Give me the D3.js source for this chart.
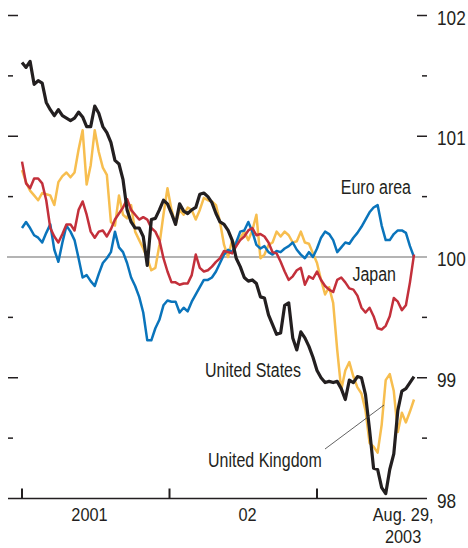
<!DOCTYPE html>
<html><head><meta charset="utf-8">
<script src="https://cdn.jsdelivr.net/npm/d3@7"></script>
<style>
html,body{margin:0;padding:0;background:#fff;}
svg{display:block;}
text{font-family:"Liberation Sans",Arial,sans-serif;fill:#231f20;}
</style></head>
<body>
<svg id="chart" width="468" height="548"></svg>
<script>
// ---- data (10-day steps from Jan 1, 2001 to Aug 29, 2003) ----
const startDate = new Date(2001, 0, 1);
const endDate = new Date(2003, 7, 29);
const stepDays = 10;

const unitedStates = [101.61,101.57,101.62,101.43,101.46,101.44,101.28,101.22,101.17,101.22,
101.17,101.15,101.13,101.15,101.20,101.16,101.08,101.08,101.25,101.19,
101.08,101.03,100.95,100.80,100.77,100.64,100.39,100.29,100.24,100.24,
100.17,99.93,100.31,100.32,100.39,100.47,100.44,100.36,100.27,100.44,
100.38,100.36,100.39,100.41,100.52,100.53,100.50,100.45,100.36,100.29,
100.27,100.22,100.14,99.99,99.92,99.83,99.80,99.81,99.78,99.67,
99.66,99.52,99.44,99.36,99.37,99.60,99.62,99.33,99.23,99.38,
99.33,99.26,99.17,99.06,99.00,98.96,98.97,98.96,98.97,98.91,
98.82,98.98,98.96,99.01,99.00,98.86,98.57,98.25,98.24,98.09,
98.04,98.24,98.37,98.73,98.89,98.91,98.96,99.01];

const japan = [100.79,100.61,100.57,100.65,100.65,100.61,100.47,100.24,100.17,100.12,
100.19,100.27,100.27,100.22,100.39,100.46,100.35,100.21,100.16,100.21,
100.22,100.17,100.23,100.31,100.36,100.41,100.48,100.39,100.35,100.31,
100.33,100.31,100.24,100.21,100.14,99.99,99.88,99.79,99.79,99.77,
99.78,99.78,99.85,100.02,99.91,99.88,99.89,99.92,99.96,99.99,
100.05,100.04,100.03,100.09,100.14,100.17,100.22,100.24,100.18,100.19,
100.17,100.12,100.04,100.03,99.96,99.88,99.81,99.84,99.89,99.91,
99.77,99.84,99.82,99.88,99.81,99.76,99.73,99.71,99.81,99.83,
99.79,99.74,99.73,99.68,99.58,99.54,99.58,99.51,99.41,99.40,
99.43,99.51,99.66,99.63,99.56,99.60,99.79,100.02];

const euroArea = [100.24,100.29,100.24,100.18,100.16,100.12,100.20,100.27,100.06,99.96,
100.12,100.26,100.21,100.14,99.99,99.83,99.85,99.80,99.76,99.86,
99.95,99.99,100.04,100.21,100.08,100.04,99.95,99.83,99.76,99.67,
99.54,99.31,99.31,99.41,99.48,99.60,99.64,99.63,99.63,99.54,
99.58,99.55,99.63,99.69,99.75,99.81,99.81,99.83,99.88,99.95,
100.02,100.06,100.04,100.12,100.21,100.22,100.29,100.21,100.10,100.07,
100.09,100.04,100.02,100.05,100.04,100.07,100.09,100.12,100.06,100.02,
99.99,100.04,100.00,100.07,100.16,100.21,100.19,100.14,100.04,100.08,
100.12,100.11,100.16,100.20,100.25,100.31,100.37,100.41,100.43,100.26,
100.14,100.14,100.19,100.22,100.22,100.20,100.09,100.00];

const unitedKingdom = [100.72,100.62,100.55,100.51,100.47,100.53,100.52,100.51,100.43,100.62,
100.67,100.70,100.66,100.70,100.89,101.05,100.60,100.76,101.05,100.87,
100.74,100.68,100.29,100.26,100.51,100.35,100.32,100.43,100.21,100.14,
100.07,99.99,99.89,99.91,100.10,100.35,100.57,100.39,100.27,100.39,
100.35,100.41,100.39,100.31,100.39,100.49,100.47,100.46,100.43,100.29,
100.10,100.00,100.14,100.09,100.16,100.21,100.14,100.22,100.35,99.99,
100.02,100.10,100.12,100.21,100.17,100.21,100.18,100.12,100.13,100.21,
100.12,100.11,100.03,99.95,99.81,99.69,99.75,99.62,99.23,98.90,
99.06,99.13,99.01,98.92,98.87,98.73,98.46,98.43,98.38,98.61,
98.98,99.03,98.89,98.55,98.71,98.63,98.72,98.82];

const yTickLabels = [98, 99, 100, 101, 102];
const yMajorTicks = [99, 101, 102];
const yMinorTicks = [98.5, 99.5, 100.5, 101.5];
const xTickDates = [new Date(2001,0,1), new Date(2002,0,1), new Date(2003,0,1)];
const xLabels = [
  {date: new Date(2001,5,17), lines: ["2001"]},
  {date: new Date(2002,6,13), lines: ["02"]},
  {date: new Date(2003,7,2), lines: ["Aug. 29,", "2003"]}
];

const seriesNames = ["United Kingdom", "Euro area", "Japan", "United States"];
const seriesValues = [unitedKingdom, euroArea, japan, unitedStates];
const seriesColors = ["#f7be4f", "#0a74bb", "#c3303b", "#231f20"];
const seriesWidths = [2.5, 2.5, 2.5, 3.2];

// ---- chart ----
const svg = d3.select("#chart");
const dates = seriesValues[0].map((_, i) => d3.timeDay.offset(startDate, i * stepDays));

const x = d3.scaleTime().domain([startDate, endDate]).range([22, 414]);
const y = d3.scaleLinear().domain([98, 102]).range([498.5, 15.5]);

const axisLeftX = 8, axisRightX = 427;
const narrow = 0.82; // condensed look

function addText(parent, tx, ty, str, size, anchor, sx) {
  return parent.append("text")
    .attr("transform", `translate(${tx},${ty}) scale(${sx || narrow},1)`)
    .attr("text-anchor", anchor || "start")
    .attr("font-size", size)
    .text(str);
}

// zero (100) line
svg.append("line")
  .attr("x1", 7).attr("x2", axisRightX)
  .attr("y1", y(100)).attr("y2", y(100))
  .attr("stroke", "#9b9b9b").attr("stroke-width", 1.3);

// baseline
svg.append("line")
  .attr("x1", axisLeftX).attr("x2", axisRightX)
  .attr("y1", y(98)).attr("y2", y(98))
  .attr("stroke", "#231f20").attr("stroke-width", 1.5);

// y ticks both sides
const tg = svg.append("g").attr("stroke", "#231f20").attr("stroke-width", 1.5);
tg.selectAll(".lmaj").data(yMajorTicks).join("line")
  .attr("x1", axisLeftX).attr("x2", axisLeftX + 10)
  .attr("y1", d => y(d)).attr("y2", d => y(d));
tg.selectAll(".lmin").data(yMinorTicks).join("line")
  .attr("x1", axisLeftX).attr("x2", axisLeftX + 5)
  .attr("y1", d => y(d)).attr("y2", d => y(d));
tg.selectAll(".rmaj").data(yMajorTicks).join("line")
  .attr("x1", axisRightX - 10).attr("x2", axisRightX)
  .attr("y1", d => y(d)).attr("y2", d => y(d));
tg.selectAll(".rmin").data(yMinorTicks).join("line")
  .attr("x1", axisRightX - 5).attr("x2", axisRightX)
  .attr("y1", d => y(d)).attr("y2", d => y(d));

// x ticks
svg.append("g").selectAll("line").data(xTickDates).join("line")
  .attr("x1", d => x(d)).attr("x2", d => x(d))
  .attr("y1", y(98) - 10).attr("y2", y(98))
  .attr("stroke", "#231f20").attr("stroke-width", 2);

// y labels
const yl = svg.append("g");
yTickLabels.forEach(v => addText(yl, 437, y(v) + 9, String(v), 21, "start"));

// x labels
const xlg = svg.append("g");
xLabels.forEach(d => d.lines.forEach((t, i) =>
  addText(xlg, x(d.date), 521 + i * 22, t, 19, "middle", 0.86)));

// series lines
const line = d3.line().x((d, i) => x(dates[i])).y(d => y(d));
svg.append("g").selectAll("path").data(seriesValues).join("path")
  .attr("d", d => line(d))
  .attr("fill", "none")
  .attr("stroke", (d, i) => seriesColors[i])
  .attr("stroke-width", (d, i) => seriesWidths[i])
  .attr("stroke-linejoin", "round");

// leader line for United Kingdom
svg.append("line")
  .attr("x1", 325).attr("y1", 449).attr("x2", 384).attr("y2", 405)
  .attr("stroke", "#3a3a3a").attr("stroke-width", 0.8);

// series labels
const labels = [
  {name: "Euro area", x: 411, y: 194, anchor: "end"},
  {name: "Japan", x: 396, y: 281, anchor: "end"},
  {name: "United States", x: 205, y: 377, anchor: "start"},
  {name: "United Kingdom", x: 208, y: 467, anchor: "start"}
];
const lg = svg.append("g");
labels.forEach(d => addText(lg, d.x, d.y, d.name, 19.5, d.anchor));
</script>
</body></html>
